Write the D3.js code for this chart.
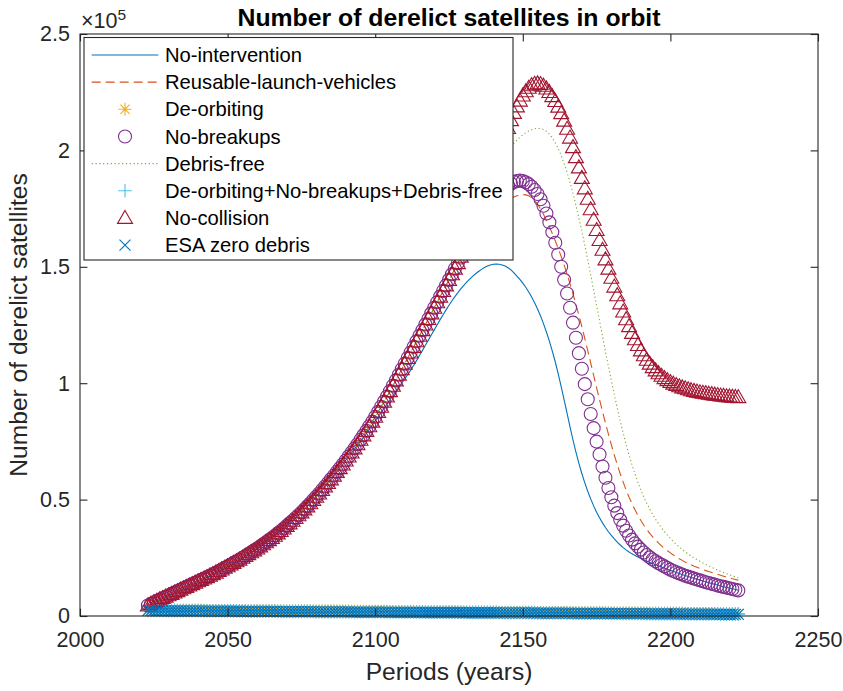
<!DOCTYPE html>
<html>
<head>
<meta charset="utf-8">
<script src="https://cdn.jsdelivr.net/npm/d3@7/dist/d3.min.js"></script>
<style>
  body { margin: 0; background: #ffffff; }
  svg { display: block; font-family: "Liberation Sans", Arial, Helvetica, sans-serif; }
</style>
</head>
<body>
<svg id="chart" width="843" height="691"></svg>
<script>
// ---------------------------------------------------------------
// Data: number of derelict satellites (in thousands), one value
// per year from 2023 to 2223 (201 values, 10 per row).
// ---------------------------------------------------------------
const firstYear = 2023;
const lastYear = 2223;

const noIntervention = [
  4.5,5.2,5.9,6.5,7.1,7.7,8.3,8.9,9.5,10.1,
  10.7,11.3,11.9,12.5,13.1,13.7,14.3,14.9,15.5,16.1,
  16.7,17.3,18.0,18.6,19.3,20.0,20.7,21.4,22.1,22.8,
  23.5,24.2,25.0,25.8,26.6,27.4,28.2,29.0,29.9,30.8,
  31.7,32.6,33.5,34.5,35.5,36.5,37.6,38.7,39.8,40.9,
  42.1,43.3,44.5,45.8,47.1,48.4,49.8,51.2,52.6,54.1,
  55.6,57.1,58.7,60.3,61.9,63.5,65.1,66.8,68.4,70.0,
  71.7,73.4,75.1,76.8,78.5,80.3,82.0,83.8,85.6,87.4,
  89.2,91.0,92.8,94.6,96.4,98.2,100.0,101.8,103.7,105.6,
  107.6,109.7,111.9,114.1,116.3,118.5,120.7,122.9,125.1,127.3,
  129.4,131.5,133.5,135.4,137.2,138.9,140.5,142.0,143.4,144.7,
  145.9,147.0,148.0,148.9,149.7,150.3,150.8,151.1,151.2,151.1,
  150.8,150.3,149.6,148.7,147.4,146.0,144.6,143.0,141.2,139.2,
  137.0,134.6,131.9,128.9,125.6,122.0,118.1,113.8,109.1,104.0,
  98.5,92.8,87.0,81.2,75.6,70.4,65.6,61.2,57.2,53.6,
  50.3,47.3,44.6,42.2,40.0,38.0,36.2,34.6,33.1,31.7,
  30.5,29.4,28.4,27.5,26.7,26.0,25.3,24.7,24.1,23.5,
  23.0,22.5,22.0,21.5,21.0,20.6,20.1,19.6,19.2,18.7,
  18.3,17.8,17.4,17.0,16.6,16.2,15.8,15.4,15.0,14.7,
  14.3,14.0,13.6,13.3,12.9,12.6,12.3,12.0,11.7,11.4,
  11.1
];

const reusableLaunchVehicles = [
  4.5,5.2,5.9,6.5,7.1,7.7,8.3,8.9,9.5,10.1,
  10.7,11.3,11.9,12.5,13.1,13.7,14.3,14.9,15.5,16.1,
  16.7,17.3,18.0,18.6,19.3,20.0,20.7,21.4,22.1,22.8,
  23.5,24.2,25.0,25.8,26.6,27.4,28.2,29.0,29.9,30.8,
  31.7,32.6,33.5,34.5,35.5,36.5,37.6,38.7,39.8,40.9,
  42.1,43.3,44.5,45.8,47.1,48.4,49.8,51.2,52.6,54.1,
  55.6,57.1,58.7,60.3,61.9,63.5,65.1,66.8,68.5,70.2,
  72.0,73.8,75.7,77.6,79.5,81.5,83.5,85.6,87.7,89.9,
  92.1,94.3,96.6,98.9,101.2,103.6,106.0,108.4,110.8,113.2,
  115.6,118.0,120.4,122.8,125.2,127.6,130.0,132.4,134.8,137.2,
  139.6,142.0,144.4,146.8,149.2,151.6,153.9,156.2,158.4,160.5,
  162.5,164.4,166.2,167.9,169.5,171.0,172.4,173.7,174.9,176.0,
  177.0,177.9,178.7,179.4,180.0,180.5,180.8,181.0,180.9,180.5,
  179.7,178.5,176.9,174.9,172.6,170.0,167.2,164.3,161.2,157.9,
  154.4,150.7,146.8,142.7,138.4,133.9,129.2,124.3,119.2,114.0,
  108.7,103.4,98.1,92.9,87.8,82.9,78.1,73.5,69.1,65.0,
  61.1,57.5,54.1,51.0,48.2,45.6,43.2,41.0,39.0,37.2,
  35.5,34.0,32.6,31.3,30.1,29.0,28.0,27.1,26.2,25.4,
  24.6,23.9,23.2,22.6,22.0,21.4,20.9,20.4,19.9,19.5,
  19.1,18.7,18.3,17.9,17.5,17.1,16.7,16.4,16.0,15.7,
  15.4
];

const deOrbiting = [
  2.6,2.6,2.6,2.6,2.6,2.6,2.6,2.5,2.5,2.5,
  2.5,2.5,2.5,2.5,2.5,2.5,2.5,2.5,2.5,2.4,
  2.4,2.4,2.4,2.4,2.4,2.4,2.4,2.4,2.4,2.4,
  2.4,2.4,2.3,2.3,2.3,2.3,2.3,2.3,2.3,2.3,
  2.3,2.3,2.3,2.3,2.2,2.2,2.2,2.2,2.2,2.2,
  2.2,2.2,2.2,2.2,2.2,2.2,2.2,2.1,2.1,2.1,
  2.1,2.1,2.1,2.1,2.1,2.1,2.1,2.1,2.1,2.0,
  2.0,2.0,2.0,2.0,2.0,2.0,2.0,2.0,2.0,2.0,
  2.0,2.0,1.9,1.9,1.9,1.9,1.9,1.9,1.9,1.9,
  1.9,1.9,1.9,1.9,1.8,1.8,1.8,1.8,1.8,1.8,
  1.8,1.8,1.8,1.8,1.8,1.8,1.8,1.7,1.7,1.7,
  1.7,1.7,1.7,1.7,1.7,1.7,1.7,1.7,1.7,1.6,
  1.6,1.6,1.6,1.6,1.6,1.6,1.6,1.6,1.6,1.6,
  1.6,1.6,1.5,1.5,1.5,1.5,1.5,1.5,1.5,1.5,
  1.5,1.5,1.5,1.5,1.4,1.4,1.4,1.4,1.4,1.4,
  1.4,1.4,1.4,1.4,1.4,1.4,1.4,1.3,1.3,1.3,
  1.3,1.3,1.3,1.3,1.3,1.3,1.3,1.3,1.3,1.2,
  1.2,1.2,1.2,1.2,1.2,1.2,1.2,1.2,1.2,1.2,
  1.2,1.2,1.1,1.1,1.1,1.1,1.1,1.1,1.1,1.1,
  1.1,1.1,1.1,1.1,1.0,1.0,1.0,1.0,1.0,1.0,
  1.0
];

const noBreakups = [
  4.5,5.2,5.9,6.5,7.1,7.7,8.3,8.9,9.5,10.1,
  10.7,11.3,11.9,12.5,13.1,13.7,14.3,14.9,15.5,16.1,
  16.7,17.3,18.0,18.6,19.3,20.0,20.7,21.4,22.1,22.8,
  23.5,24.2,25.0,25.8,26.6,27.4,28.2,29.0,29.9,30.8,
  31.7,32.6,33.5,34.5,35.5,36.5,37.6,38.7,39.8,40.9,
  42.1,43.3,44.5,45.8,47.1,48.4,49.8,51.2,52.6,54.1,
  55.6,57.1,58.7,60.3,61.9,63.5,65.1,66.8,68.5,70.2,
  72.0,73.8,75.7,77.6,79.5,81.5,83.5,85.6,87.7,89.9,
  92.1,94.3,96.6,98.9,101.2,103.6,106.0,108.4,110.8,113.2,
  115.6,118.0,120.4,122.8,125.2,127.6,130.0,132.4,134.8,137.2,
  139.6,142.0,144.4,146.8,149.2,151.6,154.0,156.4,158.8,161.1,
  163.4,165.6,167.8,169.9,172.0,174.0,175.9,177.7,179.4,181.0,
  182.4,183.7,184.8,185.7,186.4,186.8,187.0,186.8,186.3,185.5,
  184.4,183.0,181.3,179.0,176.2,172.9,169.1,164.9,160.3,155.3,
  150.0,144.4,138.5,132.4,126.0,119.5,112.9,106.2,99.6,93.1,
  86.8,80.7,74.9,69.4,64.2,59.4,55.0,51.0,47.4,44.2,
  41.3,38.8,36.6,34.6,32.8,31.2,29.8,28.5,27.3,26.2,
  25.2,24.3,23.5,22.7,22.0,21.3,20.6,19.9,19.3,18.8,
  18.3,17.8,17.3,16.9,16.5,16.1,15.7,15.3,14.9,14.5,
  14.2,13.8,13.5,13.1,12.8,12.5,12.2,11.9,11.6,11.3,
  11.0
];

const debrisFree = [
  4.5,5.2,5.9,6.5,7.1,7.7,8.3,8.9,9.5,10.1,
  10.7,11.3,11.9,12.5,13.1,13.7,14.3,14.9,15.5,16.1,
  16.7,17.3,18.0,18.6,19.3,20.0,20.7,21.4,22.1,22.8,
  23.5,24.2,25.0,25.8,26.6,27.4,28.2,29.0,29.9,30.8,
  31.7,32.6,33.5,34.5,35.5,36.5,37.6,38.7,39.8,40.9,
  42.1,43.3,44.5,45.8,47.1,48.4,49.8,51.2,52.6,54.1,
  55.6,57.1,58.7,60.3,61.9,63.5,65.1,66.8,68.5,70.2,
  72.0,73.8,75.7,77.6,79.5,81.5,83.5,85.6,87.7,89.9,
  92.1,94.3,96.6,98.9,101.2,103.6,106.0,108.4,110.8,113.2,
  115.6,118.0,120.4,122.8,125.2,127.6,130.0,132.4,134.8,137.2,
  139.6,142.0,144.4,146.8,149.2,151.6,154.5,157.5,160.6,163.7,
  166.8,169.9,173.0,176.1,179.1,182.0,184.9,187.7,190.4,193.0,
  195.4,197.6,199.6,201.4,203.0,204.4,205.6,206.7,207.6,208.3,
  208.9,209.3,209.5,209.4,209.0,208.2,207.0,205.4,203.3,200.8,
  197.8,194.4,190.5,186.2,181.5,176.4,171.0,165.4,159.3,153.0,
  146.5,140.0,133.4,126.8,120.2,113.7,107.3,101.1,95.1,89.3,
  83.8,78.6,73.7,69.1,64.9,61.0,57.4,54.1,51.1,48.4,
  45.9,43.6,41.5,39.6,37.8,36.2,34.7,33.3,32.0,30.8,
  29.7,28.6,27.6,26.7,25.8,25.0,24.2,23.5,22.8,22.1,
  21.5,20.9,20.3,19.7,19.2,18.7,18.2,17.7,17.2,16.8,
  16.4
];

const deOrbitingNoBreakupsDebrisFree = [
  2.4,2.4,2.4,2.4,2.4,2.4,2.4,2.3,2.3,2.3,
  2.3,2.3,2.3,2.3,2.3,2.3,2.3,2.3,2.3,2.2,
  2.2,2.2,2.2,2.2,2.2,2.2,2.2,2.2,2.2,2.2,
  2.2,2.2,2.1,2.1,2.1,2.1,2.1,2.1,2.1,2.1,
  2.1,2.1,2.1,2.1,2.0,2.0,2.0,2.0,2.0,2.0,
  2.0,2.0,2.0,2.0,2.0,2.0,2.0,1.9,1.9,1.9,
  1.9,1.9,1.9,1.9,1.9,1.9,1.9,1.9,1.9,1.8,
  1.8,1.8,1.8,1.8,1.8,1.8,1.8,1.8,1.8,1.8,
  1.8,1.8,1.7,1.7,1.7,1.7,1.7,1.7,1.7,1.7,
  1.7,1.7,1.7,1.7,1.6,1.6,1.6,1.6,1.6,1.6,
  1.6,1.6,1.6,1.6,1.6,1.6,1.6,1.5,1.5,1.5,
  1.5,1.5,1.5,1.5,1.5,1.5,1.5,1.5,1.5,1.4,
  1.4,1.4,1.4,1.4,1.4,1.4,1.4,1.4,1.4,1.4,
  1.4,1.4,1.3,1.3,1.3,1.3,1.3,1.3,1.3,1.3,
  1.3,1.3,1.3,1.3,1.2,1.2,1.2,1.2,1.2,1.2,
  1.2,1.2,1.2,1.2,1.2,1.2,1.2,1.1,1.1,1.1,
  1.1,1.1,1.1,1.1,1.1,1.1,1.1,1.1,1.1,1.0,
  1.0,1.0,1.0,1.0,1.0,1.0,1.0,1.0,1.0,1.0,
  1.0,1.0,0.9,0.9,0.9,0.9,0.9,0.9,0.9,0.9,
  0.9,0.9,0.9,0.9,0.8,0.8,0.8,0.8,0.8,0.8,
  0.8
];

const noCollision = [
  4.5,5.2,5.9,6.5,7.1,7.7,8.3,8.9,9.5,10.1,
  10.7,11.3,11.9,12.5,13.1,13.7,14.3,14.9,15.5,16.1,
  16.7,17.3,18.0,18.6,19.3,20.0,20.7,21.4,22.1,22.8,
  23.5,24.2,25.0,25.8,26.6,27.4,28.2,29.0,29.9,30.8,
  31.7,32.6,33.5,34.5,35.5,36.5,37.6,38.7,39.8,40.9,
  42.1,43.3,44.5,45.8,47.1,48.4,49.8,51.2,52.6,54.1,
  55.6,57.1,58.7,60.3,61.9,63.5,65.1,66.8,68.5,70.2,
  72.0,73.8,75.7,77.6,79.5,81.5,83.5,85.6,87.7,89.9,
  92.1,94.3,96.6,98.9,101.2,103.6,106.0,108.4,110.8,113.2,
  115.6,118.0,120.4,122.8,125.2,127.6,130.0,132.4,134.8,137.2,
  139.6,142.0,144.4,146.8,149.2,151.6,154.3,157.1,160.0,163.0,
  166.1,169.3,172.6,176.0,179.4,182.8,186.3,190.0,194.0,198.0,
  202.0,206.0,209.6,213.0,216.1,218.9,221.4,223.6,225.4,226.9,
  228.0,228.6,228.8,228.5,227.8,226.6,225.1,223.3,221.2,218.8,
  216.0,212.8,209.3,205.5,201.4,197.1,192.7,188.2,183.7,179.2,
  174.7,170.2,165.8,161.5,157.3,153.2,149.2,145.3,141.5,137.8,
  134.3,130.8,127.5,124.5,121.6,118.9,116.4,114.1,112.0,110.1,
  108.4,106.9,105.5,104.3,103.2,102.2,101.3,100.5,99.8,99.2,
  98.7,98.2,97.8,97.4,97.0,96.7,96.4,96.1,95.9,95.7,
  95.5,95.3,95.1,94.9,94.7,94.6,94.4,94.3,94.2,94.1,
  94.0
];

const esaZeroDebris = [
  2.3,2.3,2.3,2.3,2.3,2.3,2.3,2.2,2.2,2.2,
  2.2,2.2,2.2,2.2,2.2,2.2,2.2,2.2,2.2,2.1,
  2.1,2.1,2.1,2.1,2.1,2.1,2.1,2.1,2.1,2.1,
  2.1,2.1,2.0,2.0,2.0,2.0,2.0,2.0,2.0,2.0,
  2.0,2.0,2.0,2.0,1.9,1.9,1.9,1.9,1.9,1.9,
  1.9,1.9,1.9,1.9,1.9,1.9,1.9,1.8,1.8,1.8,
  1.8,1.8,1.8,1.8,1.8,1.8,1.8,1.8,1.8,1.7,
  1.7,1.7,1.7,1.7,1.7,1.7,1.7,1.7,1.7,1.7,
  1.7,1.7,1.6,1.6,1.6,1.6,1.6,1.6,1.6,1.6,
  1.6,1.6,1.6,1.6,1.5,1.5,1.5,1.5,1.5,1.5,
  1.5,1.5,1.5,1.5,1.5,1.5,1.5,1.4,1.4,1.4,
  1.4,1.4,1.4,1.4,1.4,1.4,1.4,1.4,1.4,1.3,
  1.3,1.3,1.3,1.3,1.3,1.3,1.3,1.3,1.3,1.3,
  1.3,1.3,1.2,1.2,1.2,1.2,1.2,1.2,1.2,1.2,
  1.2,1.2,1.2,1.2,1.1,1.1,1.1,1.1,1.1,1.1,
  1.1,1.1,1.1,1.1,1.1,1.1,1.1,1.0,1.0,1.0,
  1.0,1.0,1.0,1.0,1.0,1.0,1.0,1.0,1.0,0.9,
  0.9,0.9,0.9,0.9,0.9,0.9,0.9,0.9,0.9,0.9,
  0.9,0.9,0.8,0.8,0.8,0.8,0.8,0.8,0.8,0.8,
  0.8,0.8,0.8,0.8,0.7,0.7,0.7,0.7,0.7,0.7,
  0.7
];

const seriesNames = [
  "No-intervention",
  "Reusable-launch-vehicles",
  "De-orbiting",
  "No-breakups",
  "Debris-free",
  "De-orbiting+No-breakups+Debris-free",
  "No-collision",
  "ESA zero debris"
];

const xTickValues = [2000, 2050, 2100, 2150, 2200, 2250];
const yTickValues = [0, 50, 100, 150, 200, 250];          // thousands
const yTickLabels = ["0", "0.5", "1", "1.5", "2", "2.5"]; // ×10^5

// ---------------------------------------------------------------
// Styling
// ---------------------------------------------------------------
const styles = [
  { color: "#0072BD", dash: null },
  { color: "#D95319", dash: "9,5" },
  { color: "#EDB120", marker: "star" },
  { color: "#7E2F8E", marker: "circle" },
  { color: "#77AC30", dash: "1.2,2.6" },
  { color: "#4DBEEE", marker: "plus" },
  { color: "#A2142F", marker: "triangle" },
  { color: "#0072BD", marker: "cross" }
];
const seriesValues = [
  noIntervention, reusableLaunchVehicles, deOrbiting, noBreakups,
  debrisFree, deOrbitingNoBreakupsDebrisFree, noCollision, esaZeroDebris
];

const years = d3.range(firstYear, lastYear + 1);
const axisColor = "#262626";
const lw = 1.1;

const markerPaths = {
  star: "M-6.5,0H6.5M0,-6.5V6.5M-4.6,-4.6L4.6,4.6M-4.6,4.6L4.6,-4.6",
  plus: "M-6.8,0H6.8M0,-6.8V6.8",
  cross: "M-5.5,-5.5L5.5,5.5M-5.5,5.5L5.5,-5.5",
  circle: (() => { const p = d3.path(); p.arc(0, 0, 6.5, 0, 2 * Math.PI); p.closePath(); return p.toString(); })(),
  triangle: "M0,-7.5L7.5,5.5L-7.5,5.5Z"
};

const svg = d3.select("#chart");
const plot = { left: 80, right: 818, top: 34, bottom: 616 };

const x = d3.scaleLinear().domain([2000, 2250]).range([plot.left, plot.right]);
const y = d3.scaleLinear().domain([0, 250]).range([plot.bottom, plot.top]);

svg.append("rect").attr("width", 843).attr("height", 691).attr("fill", "#ffffff");

// ---------------------------------------------------------------
// Series
// ---------------------------------------------------------------
const line = d3.line().x((d, i) => x(years[i])).y(d => y(d));
const dataLayer = svg.append("g");

seriesValues.forEach((vals, k) => {
  const st = styles[k];
  if (!st.marker) {
    dataLayer.append("path")
      .datum(vals)
      .attr("d", line)
      .attr("fill", "none")
      .attr("stroke", st.color)
      .attr("stroke-width", lw)
      .attr("stroke-dasharray", st.dash)
      .attr("stroke-linejoin", "round");
  } else {
    dataLayer.append("g")
      .selectAll("path")
      .data(vals)
      .join("path")
      .attr("transform", (d, i) => `translate(${x(years[i])},${y(d)})`)
      .attr("d", markerPaths[st.marker])
      .attr("fill", "none")
      .attr("stroke", st.color)
      .attr("stroke-width", lw);
  }
});

// ---------------------------------------------------------------
// Axes (MATLAB-style box with inward ticks on all four sides)
// ---------------------------------------------------------------
const tickLen = 7.4;
const fontTick = 21.5;
const fontLabel = 24.6;

const gx = svg.append("g").attr("transform", `translate(0,${plot.bottom})`)
  .call(d3.axisBottom(x).tickValues(xTickValues).tickFormat(d3.format("d"))
    .tickSizeInner(-tickLen).tickSizeOuter(0).tickPadding(16));
const gxTop = svg.append("g").attr("transform", `translate(0,${plot.top})`)
  .call(d3.axisTop(x).tickValues(xTickValues).tickFormat("")
    .tickSizeInner(-tickLen).tickSizeOuter(0));
const gy = svg.append("g").attr("transform", `translate(${plot.left},0)`)
  .call(d3.axisLeft(y).tickValues(yTickValues).tickFormat((d, i) => yTickLabels[i])
    .tickSizeInner(-tickLen).tickSizeOuter(0).tickPadding(10));
const gyRight = svg.append("g").attr("transform", `translate(${plot.right},0)`)
  .call(d3.axisRight(y).tickValues(yTickValues).tickFormat("")
    .tickSizeInner(-tickLen).tickSizeOuter(0));

[gx, gxTop, gy, gyRight].forEach(g => {
  g.select(".domain").remove();
  g.selectAll(".tick line").attr("stroke", axisColor).attr("stroke-width", lw);
  g.selectAll(".tick text")
    .attr("fill", axisColor)
    .attr("font-size", fontTick)
    .attr("font-family", "Liberation Sans, Arial, Helvetica, sans-serif");
});

svg.append("rect")
  .attr("x", plot.left).attr("y", plot.top)
  .attr("width", plot.right - plot.left).attr("height", plot.bottom - plot.top)
  .attr("fill", "none").attr("stroke", axisColor).attr("stroke-width", lw);

// exponent label above the y axis
const expo = svg.append("text")
  .attr("x", 81).attr("y", 28)
  .attr("fill", axisColor).attr("font-size", fontTick);
expo.append("tspan").text("×10");
expo.append("tspan").attr("font-size", 15.5).attr("dy", -8).text("5");

// axis labels
svg.append("text")
  .attr("x", (plot.left + plot.right) / 2).attr("y", 680)
  .attr("text-anchor", "middle").attr("fill", axisColor).attr("font-size", fontLabel)
  .text("Periods (years)");

svg.append("text")
  .attr("transform", `translate(27,${(plot.top + plot.bottom) / 2}) rotate(-90)`)
  .attr("text-anchor", "middle").attr("fill", axisColor).attr("font-size", fontLabel)
  .text("Number of derelict satellites");

// title
svg.append("text")
  .attr("x", (plot.left + plot.right) / 2).attr("y", 26)
  .attr("text-anchor", "middle").attr("fill", "#000").attr("font-size", 24.8)
  .attr("font-weight", "bold")
  .text("Number of derelict satellites in orbit");

// ---------------------------------------------------------------
// Legend
// ---------------------------------------------------------------
const legend = svg.append("g");
legend.append("rect")
  .attr("x", 84).attr("y", 37.5).attr("width", 429).attr("height", 222.5)
  .attr("fill", "#ffffff").attr("stroke", axisColor).attr("stroke-width", lw);

seriesNames.forEach((name, k) => {
  const st = styles[k];
  const cy = 55 + k * 27.15;
  if (!st.marker) {
    legend.append("line")
      .attr("x1", 91.7).attr("x2", 158.3).attr("y1", cy).attr("y2", cy)
      .attr("stroke", st.color).attr("stroke-width", lw)
      .attr("stroke-dasharray", st.dash);
  } else {
    legend.append("path")
      .attr("transform", `translate(125,${cy})`)
      .attr("d", markerPaths[st.marker])
      .attr("fill", "none").attr("stroke", st.color).attr("stroke-width", lw);
  }
  legend.append("text")
    .attr("x", 165).attr("y", cy).attr("dy", "0.35em")
    .attr("fill", "#000").attr("font-size", 20.2)
    .text(name);
});
</script>
</body>
</html>
